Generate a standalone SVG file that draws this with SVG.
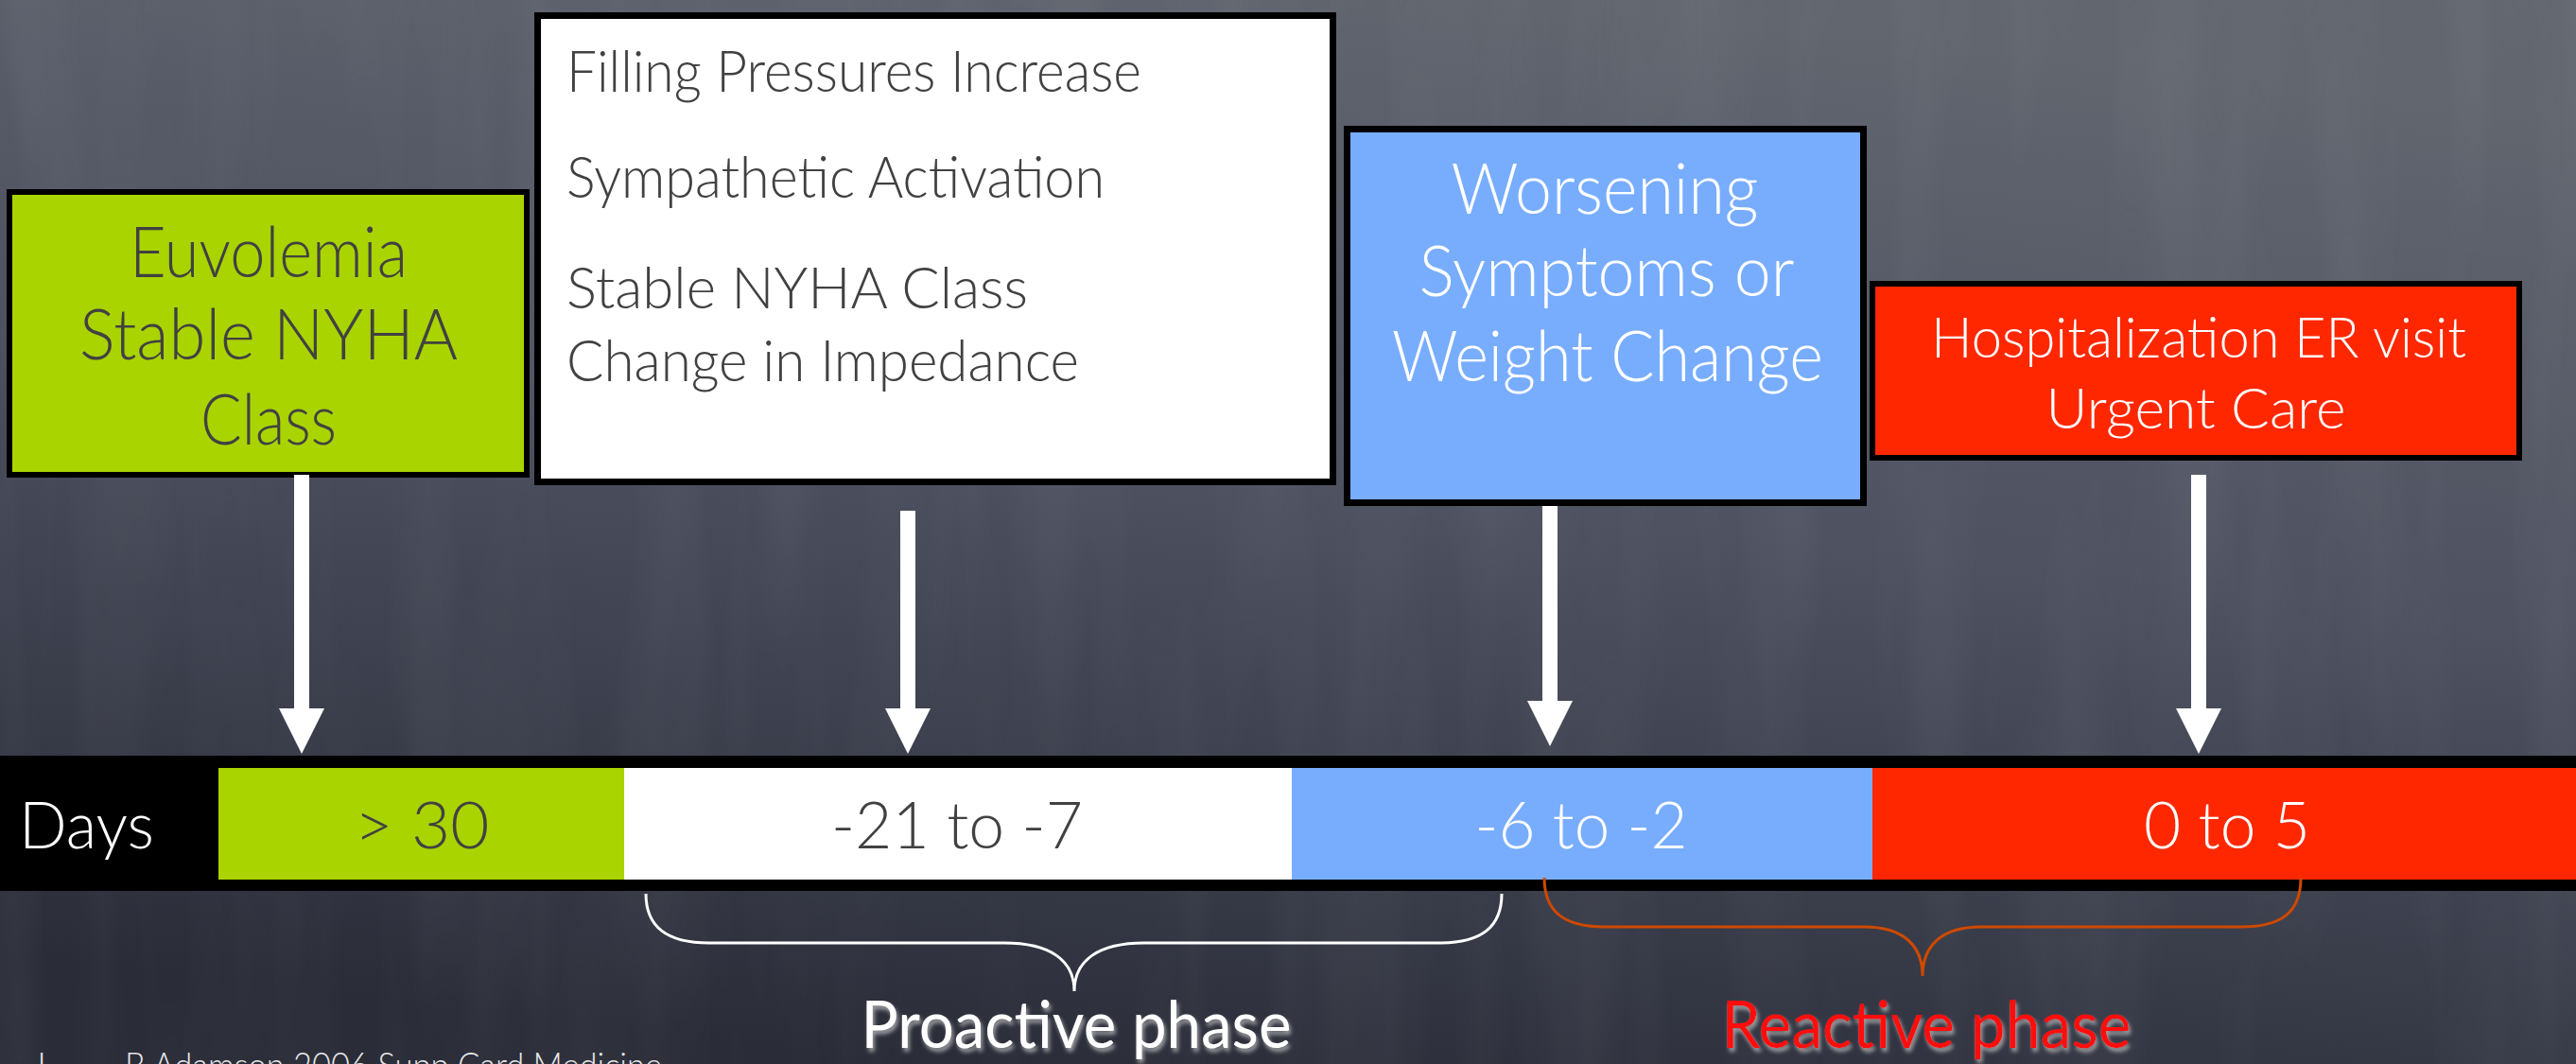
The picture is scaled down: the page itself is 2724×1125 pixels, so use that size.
<svg xmlns="http://www.w3.org/2000/svg" width="2724" height="1125" viewBox="0 0 2724 1125">
  <defs>
    <linearGradient id="bg" x1="0.65" y1="0" x2="0.35" y2="1">
      <stop offset="0" stop-color="#62666f"/>
      <stop offset="0.45" stop-color="#4e5261"/>
      <stop offset="1" stop-color="#2a2c38"/>
    </linearGradient>
    <filter id="streaks" x="0" y="0" width="100%" height="100%">
      <feTurbulence type="fractalNoise" baseFrequency="0.012 0.0015" numOctaves="3" seed="7"/>
      <feColorMatrix type="matrix" values="0 0 0 0 1  0 0 0 0 1  0 0 0 0 1  0 0 0 1.2 -0.45"/>
    </filter>
    <filter id="shadow" x="-5%" y="-20%" width="110%" height="150%">
      <feDropShadow dx="2" dy="4" stdDeviation="2" flood-color="#b8b8b8" flood-opacity="0.8"/>
    </filter>
    <marker id="head" viewBox="0 0 48 48" markerWidth="48" markerHeight="48" markerUnits="userSpaceOnUse" refX="0" refY="24" orient="auto">
      <path d="M0,0 L48,24 L0,48 Z" fill="#ffffff"/>
    </marker>
  </defs>
  <style>
    text { font-family: Lato, "Open Sans", "Liberation Sans", sans-serif; font-weight: 300; }
    .box { stroke: #000000; }
    .dark { fill: #414141; }
    .light { fill: #ffffff; }
    .big { font-size: 74px; }
    .list { font-size: 62px; }
    .hosp { font-size: 60px; }
    .bar { font-size: 68px; }
    .phase { font-size: 70px; font-weight: 400; }
    .arrow { stroke: #ffffff; stroke-width: 16; fill: none; marker-end: url(#head); }
    .brace { fill: none; stroke-width: 3; }
  </style>

  <!-- background -->
  <rect x="0" y="0" width="2724" height="1125" fill="url(#bg)"/>
  <rect x="0" y="0" width="2724" height="1125" filter="url(#streaks)" opacity="0.07"/>

  <!-- node: Euvolemia -->
  <g id="node-euvolemia">
    <rect class="box" x="10" y="203" width="547" height="299" fill="#a9d400" stroke-width="6"/>
    <text class="dark big" text-anchor="middle" x="284" y="293" textLength="294" lengthAdjust="spacingAndGlyphs">Euvolemia</text>
    <text class="dark big" text-anchor="middle" x="284" y="380" textLength="400" lengthAdjust="spacingAndGlyphs">Stable NYHA</text>
    <text class="dark big" text-anchor="middle" x="284" y="470" textLength="144" lengthAdjust="spacingAndGlyphs">Class</text>
  </g>

  <!-- node: Filling pressures -->
  <g id="node-filling">
    <rect class="box" x="568.5" y="16.5" width="841" height="493" fill="#ffffff" stroke-width="7"/>
    <text class="dark list" x="599" y="97" textLength="608" lengthAdjust="spacingAndGlyphs">Filling Pressures Increase</text>
    <text class="dark list" x="599" y="209" textLength="569" lengthAdjust="spacingAndGlyphs">Sympathetic Activation</text>
    <text class="dark list" x="599" y="326" textLength="488" lengthAdjust="spacingAndGlyphs">Stable NYHA Class</text>
    <text class="dark list" x="599" y="403" textLength="542" lengthAdjust="spacingAndGlyphs">Change in Impedance</text>
  </g>

  <!-- node: Worsening -->
  <g id="node-worsening">
    <rect class="box" x="1424.5" y="136.5" width="546" height="395" fill="#78adfe" stroke-width="7"/>
    <text class="light big" text-anchor="middle" x="1697" y="226" textLength="325" lengthAdjust="spacingAndGlyphs">Worsening</text>
    <text class="light big" text-anchor="middle" x="1699" y="313" textLength="397" lengthAdjust="spacingAndGlyphs">Symptoms or</text>
    <text class="light big" text-anchor="middle" x="1700" y="403" textLength="456" lengthAdjust="spacingAndGlyphs">Weight Change</text>
  </g>

  <!-- node: Hospitalization -->
  <g id="node-hospitalization">
    <rect class="box" x="1980" y="300" width="684" height="184" fill="#ff2700" stroke-width="6"/>
    <text class="light hosp" text-anchor="middle" x="2325" y="378" textLength="566" lengthAdjust="spacingAndGlyphs">Hospitalization ER visit</text>
    <text class="light hosp" text-anchor="middle" x="2322" y="453" textLength="317" lengthAdjust="spacingAndGlyphs">Urgent Care</text>
  </g>

  <!-- timeline bar -->
  <g id="timeline">
    <rect x="0" y="799" width="2724" height="143" fill="#000000"/>
    <rect x="231" y="812" width="429" height="118" fill="#a9d400"/>
    <rect x="660" y="812" width="706" height="118" fill="#ffffff"/>
    <rect x="1366" y="812" width="614" height="118" fill="#78adfe"/>
    <rect x="1980" y="812" width="744" height="118" fill="#ff2700"/>
    <text class="light bar" x="20" y="897" textLength="143" lengthAdjust="spacingAndGlyphs">Days</text>
    <text class="dark bar" text-anchor="middle" x="446" y="897" textLength="143" lengthAdjust="spacingAndGlyphs">&gt; 30</text>
    <text class="dark bar" text-anchor="middle" x="1012" y="897" textLength="266" lengthAdjust="spacingAndGlyphs">-21 to -7</text>
    <text class="light bar" text-anchor="middle" x="1672" y="897" textLength="225" lengthAdjust="spacingAndGlyphs">-6 to -2</text>
    <text class="light bar" text-anchor="middle" x="2355" y="897" textLength="176" lengthAdjust="spacingAndGlyphs">0 to 5</text>
  </g>

  <!-- connectors -->
  <g id="connectors">
    <path class="arrow" d="M319,502 L319,749"/>
    <path class="arrow" d="M960,540 L960,749"/>
    <path class="arrow" d="M1639,535 L1639,741"/>
    <path class="arrow" d="M2325,502 L2325,749"/>
    <path class="brace" stroke="#ffffff" d="M683,945 C683,980 705,997 750,997 L1062,997 C1110,997 1136,1015 1136,1048 C1136,1015 1162,997 1210,997 L1522,997 C1567,997 1588,980 1588,945"/>
    <path class="brace" stroke="#cc4a00" d="M1633,928 C1633,965 1655,980 1697,980 L1971,980 C2013,980 2033,1000 2033,1032 C2033,1000 2053,980 2095,980 L2370,980 C2412,980 2433,965 2433,928"/>
  </g>

  <!-- phase labels -->
  <g id="phases">
    <text class="light phase" filter="url(#shadow)" text-anchor="middle" x="1138" y="1108" textLength="455" lengthAdjust="spacingAndGlyphs">Proactive phase</text>
    <text class="phase" fill="#ff0a0a" filter="url(#shadow)" text-anchor="middle" x="2037" y="1108" textLength="433" lengthAdjust="spacingAndGlyphs">Reactive phase</text>
  </g>

  <!-- footer -->
  <text fill="#e6e6e6" font-size="38" y="1140"><tspan x="33">J</tspan><tspan x="132" textLength="568" lengthAdjust="spacingAndGlyphs">B Adamson 2006 Supp Card Medicine</tspan></text>
</svg>
